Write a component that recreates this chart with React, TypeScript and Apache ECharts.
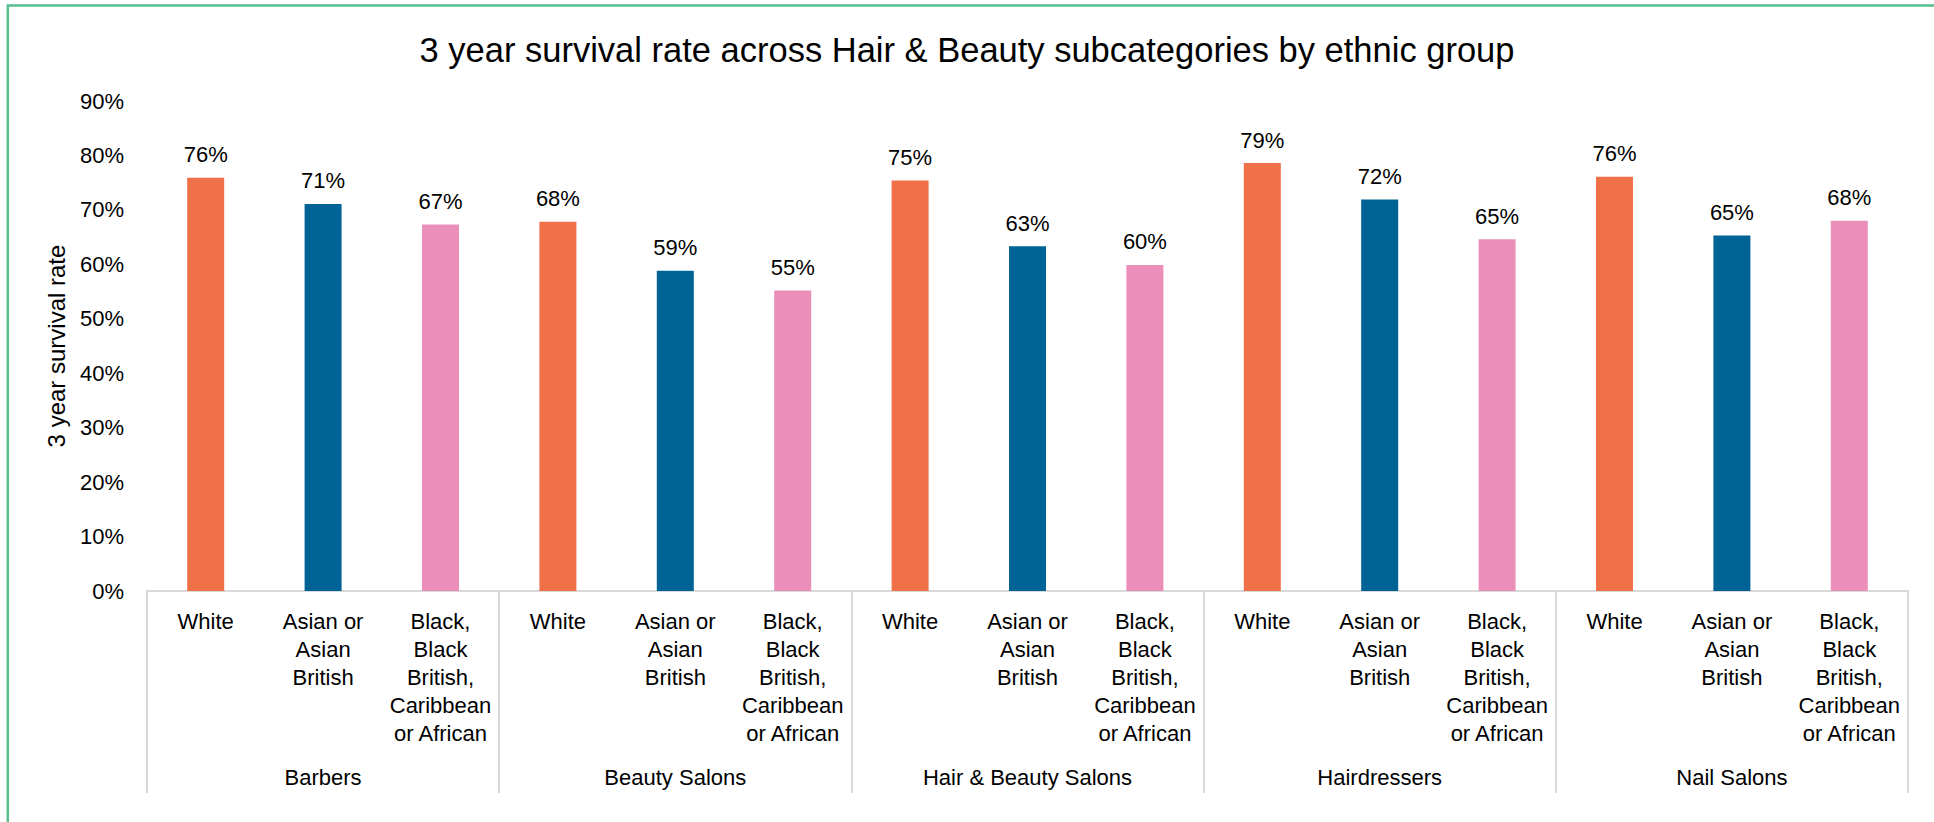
import React, { useEffect, useRef } from "react";
import * as echarts from "echarts";

const groups = ["Barbers", "Beauty Salons", "Hair & Beauty Salons", "Hairdressers", "Nail Salons"];
const ethnicities = ["White", "Asian or\nAsian\nBritish", "Black,\nBlack\nBritish,\nCaribbean\nor African"];
const ethnicColors = ["#F07048", "#006396", "#EB8FBA"];

const barbers = [75.9, 71.1, 67.3];
const beautySalons = [67.8, 58.8, 55.2];
const hairBeautySalons = [75.4, 63.3, 59.9];
const hairdressers = [78.6, 71.9, 64.6];
const nailSalons = [76.1, 65.3, 68.0];

const groupValues = [barbers, beautySalons, hairBeautySalons, hairdressers, nailSalons];

const yTicks = { min: 0, max: 90, interval: 10 };

const FONT = "'Liberation Sans', Arial, Helvetica, sans-serif";

export default function App() {
  const ref = useRef<HTMLDivElement>(null);

  useEffect(() => {
    if (!ref.current) return;
    const chart = echarts.init(ref.current, null, { renderer: "svg" });

    const categories: string[] = [];
    const data: any[] = [];
    groupValues.forEach((vals) => {
      vals.forEach((v, i) => {
        categories.push(ethnicities[i]);
        data.push({ value: v, itemStyle: { color: ethnicColors[i] } });
      });
    });

    const axisLineStyle = { color: "#D9D9D9", width: 2 };

    chart.setOption({
      animation: false,
      backgroundColor: "#ffffff",
      textStyle: { fontFamily: FONT },
      title: {
        text: "3 year survival rate across Hair & Beauty subcategories by ethnic group",
        left: "center",
        top: 27,
        textStyle: { fontFamily: FONT, fontSize: 34.5, fontWeight: "normal", color: "#000" },
      },
      graphic: [
        {
          type: "rect",
          shape: { x: 7.8, y: 5.5, width: 2100, height: 1000 },
          style: { fill: "none", stroke: "#55C08C", lineWidth: 2.5 },
          silent: true,
        },
      ],
      grid: { left: 147, right: 26, top: 101, bottom: 231, containLabel: false },
      xAxis: [
        {
          type: "category",
          data: categories,
          position: "bottom",
          axisLine: { show: true, lineStyle: axisLineStyle },
          axisTick: { show: false },
          axisLabel: {
            interval: 0,
            margin: 16,
            fontFamily: FONT,
            fontSize: 22,
            lineHeight: 28,
            color: "#000",
            align: "center",
          },
        },
        {
          type: "category",
          data: groups,
          position: "bottom",
          offset: 0,
          axisLine: { show: true, lineStyle: axisLineStyle },
          axisTick: { show: true, length: 202, lineStyle: axisLineStyle },
          axisLabel: {
            interval: 0,
            margin: 175,
            fontFamily: FONT,
            fontSize: 22,
            color: "#000",
          },
        },
      ],
      yAxis: {
        type: "value",
        min: yTicks.min,
        max: yTicks.max,
        interval: yTicks.interval,
        name: "3 year survival rate",
        nameLocation: "middle",
        nameGap: 79,
        nameTextStyle: { fontFamily: FONT, fontSize: 24, color: "#000" },
        axisLine: { show: false },
        axisTick: { show: false },
        splitLine: { show: false },
        axisLabel: {
          margin: 23,
          fontFamily: FONT,
          fontSize: 22,
          color: "#000",
          formatter: "{value}%",
        },
      },
      series: [
        {
          type: "bar",
          xAxisIndex: 0,
          data,
          barWidth: 37,
          label: {
            show: true,
            position: "top",
            distance: 12,
            fontFamily: FONT,
            fontSize: 22,
            color: "#000",
            formatter: (p: any) => Math.round(p.value) + "%",
          },
        },
      ],
    });

    return () => chart.dispose();
  }, []);

  return (
    <div
      ref={ref}
      style={{ position: "absolute", left: 0, top: 0, width: 1934, height: 822, background: "#fff" }}
    />
  );
}
